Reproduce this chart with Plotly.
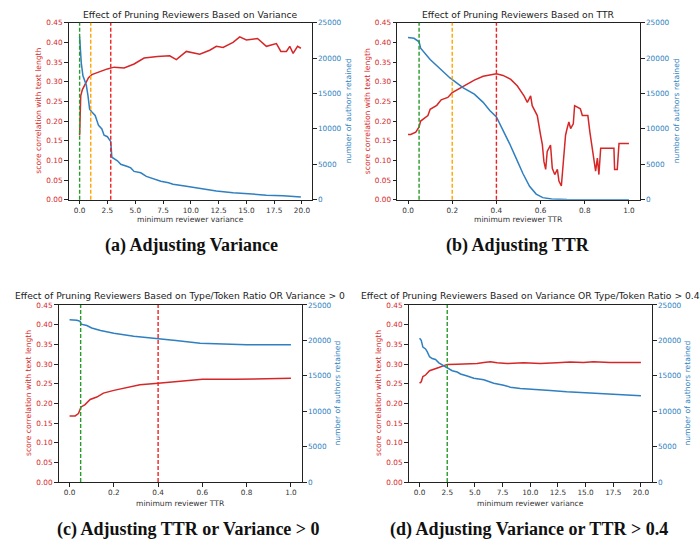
import plotly.graph_objects as go

# ---------------- data ----------------
a_x_corr = [0, 0.1, 0.25, 0.5, 0.8, 1.1, 1.9, 2.5, 3.1, 4.0, 4.9, 5.8, 7.0, 8.1, 8.7, 9.6, 10.8, 11.7, 12.3, 12.9, 13.8, 14.4, 15.0, 16.0, 16.8, 17.7, 18.1, 18.6, 18.9, 19.2, 19.6, 19.9]
a_corr = [0.164, 0.264, 0.28, 0.293, 0.31, 0.318, 0.327, 0.3325, 0.337, 0.335, 0.345, 0.36, 0.364, 0.366, 0.356, 0.377, 0.37, 0.38, 0.39, 0.387, 0.40, 0.414, 0.406, 0.41, 0.39, 0.397, 0.377, 0.377, 0.39, 0.372, 0.39, 0.385]
a_x_auth = [0, 0.05, 0.15, 0.3, 0.5, 0.6, 0.75, 0.9, 1.1, 1.4, 1.7, 2.0, 2.2, 2.5, 2.8, 2.9, 3.4, 3.7, 4.3, 4.6, 4.9, 5.5, 6.0, 6.7, 7.3, 8.0, 8.4, 9.6, 10.8, 12.3, 13.8, 15.3, 16.8, 18.3, 19.9]
a_auth = [23000, 21500, 19300, 17500, 16500, 16200, 14700, 12800, 12400, 11900, 10500, 10000, 9100, 8900, 8200, 6000, 5500, 5000, 4700, 4500, 4000, 3800, 3300, 2900, 2600, 2400, 2200, 1900, 1600, 1250, 1000, 800, 650, 550, 400]
a_thresholds = [0.0, 1.0, 2.8]

b_x_corr = [0, 0.012, 0.035, 0.05, 0.057, 0.09, 0.1, 0.13, 0.15, 0.18, 0.2, 0.24, 0.27, 0.3, 0.34, 0.4, 0.43, 0.465, 0.495, 0.525, 0.54, 0.555, 0.562, 0.585, 0.6, 0.608, 0.615, 0.623, 0.63, 0.645, 0.653, 0.664, 0.676, 0.683, 0.694, 0.703, 0.713, 0.72, 0.728, 0.736, 0.748, 0.754, 0.78, 0.789, 0.814, 0.823, 0.834, 0.849, 0.857, 0.864, 0.872, 0.932, 0.935, 0.947, 0.955, 1.0]
b_corr = [0.166, 0.166, 0.172, 0.185, 0.2, 0.214, 0.23, 0.24, 0.254, 0.26, 0.272, 0.285, 0.293, 0.304, 0.314, 0.32, 0.316, 0.306, 0.289, 0.264, 0.2475, 0.264, 0.239, 0.214, 0.164, 0.14, 0.0975, 0.077, 0.123, 0.139, 0.08, 0.064, 0.077, 0.0475, 0.035, 0.0975, 0.164, 0.181, 0.1975, 0.181, 0.193, 0.239, 0.231, 0.214, 0.214, 0.1725, 0.131, 0.0725, 0.106, 0.064, 0.131, 0.131, 0.077, 0.077, 0.143, 0.143]
b_x_auth = [0, 0.027, 0.05, 0.057, 0.1, 0.15, 0.19, 0.25, 0.3, 0.34, 0.37, 0.4, 0.43, 0.46, 0.49, 0.52, 0.55, 0.58, 0.61, 0.65, 0.72, 1.0]
b_auth = [22900, 22800, 22300, 21400, 19800, 18400, 17200, 15800, 14900, 13750, 12600, 11700, 9900, 7900, 5800, 3700, 1900, 800, 300, 100, 30, 0]
b_thresholds = [0.05, 0.2, 0.4]

c_x_corr = [0, 0.025, 0.04, 0.052, 0.07, 0.093, 0.123, 0.153, 0.2, 0.258, 0.318, 0.4, 0.48, 0.558, 0.6, 0.75, 1.0]
c_corr = [0.168, 0.168, 0.174, 0.191, 0.197, 0.21, 0.216, 0.226, 0.233, 0.239, 0.247, 0.251, 0.255, 0.26, 0.261, 0.261, 0.264]
c_x_auth = [0, 0.033, 0.048, 0.052, 0.078, 0.1, 0.14, 0.2, 0.29, 0.4, 0.48, 0.59, 0.66, 0.8, 1.0]
c_auth = [22900, 22850, 22700, 22300, 22100, 21750, 21400, 21000, 20600, 20300, 20000, 19600, 19500, 19400, 19400]
c_thresholds = [0.05, 0.4]

d_x_corr = [0, 0.15, 0.3, 0.54, 0.9, 1.3, 1.74, 2.2, 2.5, 3.4, 4.3, 5.2, 5.8, 6.4, 7.0, 7.9, 9.4, 10.9, 12.4, 13.6, 14.8, 15.7, 17.2, 18.7, 20]
d_corr = [0.251, 0.255, 0.268, 0.272, 0.283, 0.286, 0.291, 0.296, 0.299, 0.2997, 0.301, 0.301, 0.304, 0.3055, 0.303, 0.301, 0.303, 0.301, 0.303, 0.305, 0.304, 0.3055, 0.304, 0.305, 0.304]
d_x_auth = [0, 0.15, 0.3, 0.54, 0.7, 0.9, 1.14, 1.44, 1.74, 2.2, 2.5, 2.95, 3.4, 3.7, 4.3, 4.9, 5.8, 6.7, 7.6, 8.2, 9.1, 10.3, 11.8, 13.3, 14.8, 16.3, 17.8, 20]
d_auth = [20300, 20000, 19060, 18800, 18370, 17700, 17440, 17300, 16840, 16370, 16140, 15720, 15540, 15260, 14980, 14660, 14430, 13960, 13680, 13400, 13200, 13130, 12940, 12750, 12620, 12520, 12380, 12200]
d_thresholds = [2.5]

titles = ["Effect of Pruning Reviewers Based on Variance",
          "Effect of Pruning Reviewers Based on TTR",
          "Effect of Pruning Reviewers Based on Type/Token Ratio OR Variance > 0",
          "Effect of Pruning Reviewers Based on Variance OR Type/Token Ratio > 0.4"]
xlabels = ["minimum reviewer variance", "minimum reviewer TTR",
           "minimum reviewer TTR", "minimum reviewer variance"]
captions = ["(a) Adjusting Variance", "(b) Adjusting TTR",
            "(c) Adjusting TTR or Variance > 0", "(d) Adjusting Variance or TTR > 0.4"]
left_label = "score correlation with text length"
right_label = "number of authors retained"

# ---------------- style ----------------
W, H = 700, 550
RED = "#d62728"
BLUE = "#2f7fc1"
TH_COLORS = ["#2a9a2a", "#ffa500", "#ee2222"]
FONT = "DejaVu Sans"
TICK = 7.3
LABEL = 7.6

def px(x):
    return x / W

def py(y):
    return 1 - y / H

# panel geometry in pixels: left, right, top, bottom
panels = [
    dict(l=68.5, r=312, t=19, b=199, xr=[-1.0, 20.9], dtick=2.5, fmt=".1f", xl=20.5, tt=8),
    dict(l=397, r=640, t=19, b=199, xr=[-0.05, 1.05], dtick=0.2, fmt=".1f", xl=20.5, tt=8),
    dict(l=58.5, r=302, t=306, b=486, xr=[-0.05, 1.05], dtick=0.2, fmt=".1f", xl=21.5, tt=9.5),
    dict(l=408.5, r=652, t=306, b=486, xr=[-1.0, 21.0], dtick=2.5, fmt=".1f", xl=21.5, tt=9.5),
]
panel_data = [
    (a_x_corr, a_corr, a_x_auth, a_auth, a_thresholds, [0, 1, 2]),
    (b_x_corr, b_corr, b_x_auth, b_auth, b_thresholds, [0, 1, 2]),
    (c_x_corr, c_corr, c_x_auth, c_auth, c_thresholds, [0, 2]),
    (d_x_corr, d_corr, d_x_auth, d_auth, d_thresholds, [0]),
]
caption_pos = [(191, 246), (518, 246), (188, 534), (529, 534)]

fig = go.Figure()
layout = dict(width=W, height=H, margin=dict(l=0, r=0, t=0, b=0),
              paper_bgcolor="white", plot_bgcolor="white", showlegend=False)
shapes, annotations = [], []

for i, (p, dat) in enumerate(zip(panels, panel_data)):
    xc, yc, xa, ya, ths, cidx = dat
    n = i + 1
    xname = "x" if n == 1 else f"x{n}"
    yl = 2 * i + 1
    yr = 2 * i + 2
    ylname = "y" if yl == 1 else f"y{yl}"
    yrname = f"y{yr}"
    xdom = [px(p["l"]), px(p["r"])]
    ydom = [py(p["b"]), py(p["t"])]
    axis_common = dict(showgrid=False, zeroline=False, showline=True,
                       linecolor="#222", linewidth=1, ticks="outside",
                       ticklen=3.5, tickwidth=0.8)
    layout["xaxis" if n == 1 else f"xaxis{n}"] = dict(
        domain=xdom, anchor=ylname, range=p["xr"], dtick=p["dtick"], tick0=0,
        tickformat=p["fmt"], mirror=True, tickcolor="#222",
        tickfont=dict(family=FONT, size=TICK, color="#333"), **axis_common)
    layout["yaxis" if yl == 1 else f"yaxis{yl}"] = dict(
        domain=ydom, anchor=xname, range=[0, 0.45], dtick=0.05, tick0=0,
        tickformat=".2f", tickcolor="#222",
        tickfont=dict(family=FONT, size=TICK, color=RED), **axis_common)
    layout[f"yaxis{yr}"] = dict(
        domain=ydom, anchor=xname, overlaying=ylname, side="right",
        range=[0, 25000], dtick=5000, tick0=0, tickformat="d", tickcolor="#222",
        tickfont=dict(family=FONT, size=TICK, color=BLUE), **axis_common)

    fig.add_trace(go.Scatter(x=xc, y=yc, mode="lines", xaxis=xname, yaxis=ylname,
                             line=dict(color=RED, width=1.5)))
    fig.add_trace(go.Scatter(x=xa, y=ya, mode="lines", xaxis=xname, yaxis=yrname,
                             line=dict(color=BLUE, width=1.5)))
    for t, ci in zip(ths, cidx):
        shapes.append(dict(type="line", xref=xname, yref=f"{ylname} domain",
                           x0=t, x1=t, y0=0, y1=1,
                           line=dict(color=TH_COLORS[ci], width=1.4, dash="4px,2px")))

    cx = (p["l"] + p["r"]) / 2
    annotations.append(dict(text=titles[i], x=px(cx), y=py(p["t"] - p["tt"]), xref="paper", yref="paper",
                            showarrow=False, xanchor="center", yanchor="middle",
                            font=dict(family=FONT, size=9.2, color="#222")))
    annotations.append(dict(text=xlabels[i], x=px(cx), y=py(p["b"] + p["xl"]), xref="paper", yref="paper",
                            showarrow=False, xanchor="center", yanchor="middle",
                            font=dict(family=FONT, size=LABEL, color="#333")))
    cy = (p["t"] + p["b"]) / 2
    annotations.append(dict(text=left_label, x=px(p["l"] - 30), y=py(cy), xref="paper", yref="paper",
                            showarrow=False, textangle=-90, xanchor="center", yanchor="middle",
                            font=dict(family=FONT, size=LABEL, color=RED)))
    annotations.append(dict(text=right_label, x=px(p["r"] + 36), y=py(cy), xref="paper", yref="paper",
                            showarrow=False, textangle=-90, xanchor="center", yanchor="middle",
                            font=dict(family=FONT, size=LABEL, color=BLUE)))
    cpx, cpy = caption_pos[i]
    annotations.append(dict(text="<b>" + captions[i] + "</b>", x=px(cpx), y=py(cpy),
                            xref="paper", yref="paper", showarrow=False,
                            xanchor="center", yanchor="middle",
                            font=dict(family="Liberation Serif", size=18, color="#111")))

layout["shapes"] = shapes
layout["annotations"] = annotations
fig.update_layout(**layout)
fig.write_html("out.html")
